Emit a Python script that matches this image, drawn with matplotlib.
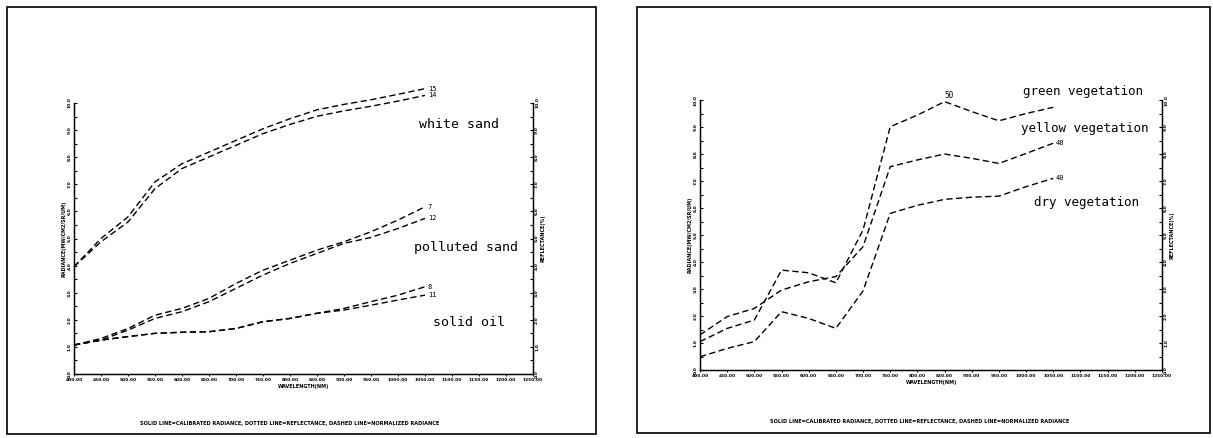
import numpy as np
import matplotlib
matplotlib.use("Agg")
import matplotlib.pyplot as plt
from matplotlib.patches import Rectangle

# wavelength ticks (nm) and sample points
tick_wl = [400, 450, 500, 550, 600, 650, 700, 750, 800, 850, 900, 950, 1000, 1050, 1100, 1150, 1200, 1250]
wl = [400, 450, 500, 550, 600, 650, 700, 750, 800, 850, 900, 950, 1000, 1050]

# left panel: sand / oil spectra (two curves each)
white_sand_15 = [3.96, 5.00, 5.80, 7.09, 7.76, 8.19, 8.62, 9.05, 9.42, 9.75, 9.95, 10.12, 10.32, 10.53]
white_sand_14 = [3.96, 4.88, 5.61, 6.84, 7.58, 8.01, 8.44, 8.87, 9.21, 9.51, 9.71, 9.88, 10.07, 10.28]
polluted_7 = [1.07, 1.31, 1.68, 2.17, 2.42, 2.79, 3.34, 3.83, 4.20, 4.57, 4.88, 5.25, 5.68, 6.17]
polluted_12 = [1.07, 1.25, 1.62, 2.05, 2.30, 2.67, 3.16, 3.65, 4.08, 4.45, 4.82, 5.04, 5.37, 5.74]
oil_8 = [1.07, 1.25, 1.38, 1.50, 1.54, 1.56, 1.68, 1.93, 2.05, 2.24, 2.42, 2.67, 2.91, 3.22]
oil_11 = [1.07, 1.25, 1.38, 1.50, 1.54, 1.56, 1.68, 1.93, 2.05, 2.24, 2.36, 2.54, 2.73, 2.91]

# right panel: vegetation spectra
green_veg = [1.05, 1.54, 1.85, 3.70, 3.60, 3.23, 5.19, 9.01, 9.44, 9.94, 9.57, 9.23, 9.50, 9.73]
yellow_veg = [1.30, 1.98, 2.28, 2.96, 3.27, 3.46, 4.57, 7.53, 7.78, 8.00, 7.84, 7.65, 8.02, 8.40]
dry_veg = [0.49, 0.80, 1.05, 2.16, 1.91, 1.54, 2.93, 5.80, 6.10, 6.32, 6.40, 6.44, 6.79, 7.10]

footnote = "SOLID LINE=CALIBRATED RADIANCE, DOTTED LINE=REFLECTANCE, DASHED LINE=NORMALIZED RADIANCE"

W, H = 1213, 438
fig = plt.figure(figsize=(W / 100, H / 100), dpi=100)

def fx(px):
    return px / W

def fy(py):
    return 1 - py / H

# page frames
for x0, y0, x1, y1 in [(7, 7, 596, 434), (637, 7, 1210, 433)]:
    fig.patches.append(Rectangle((fx(x0), fy(y1)), fx(x1 - x0), (y1 - y0) / H,
                                 transform=fig.transFigure, fill=False, lw=1.2, ec="black"))

dash = (0, (4.5, 2.5))
mono = "DejaVu Sans Mono"

def make_axes(x0, x1, ytop, ybot):
    ax = fig.add_axes([fx(x0), fy(ybot), fx(x1 - x0), (ybot - ytop) / H])
    ax.set_xlim(400, 1250)
    ax.set_ylim(0, 10)
    ax.spines["top"].set_visible(False)
    ax.set_xticks(tick_wl)
    ax.set_xticklabels(["%.2f" % t for t in tick_wl], fontsize=3.2, fontweight="bold")
    ax.set_yticks(np.arange(0, 11, 1))
    ax.set_yticks(np.arange(0.5, 10, 1), minor=True)
    ax.set_yticklabels(["%.1f" % v for v in range(11)], fontsize=3.2, fontweight="bold",
                       rotation=90, va="center")
    ax.tick_params(axis="both", which="both", direction="in", length=2.5, width=0.8, pad=1.5)
    ax.tick_params(axis="x", direction="out", length=1.5)
    ax.set_xlabel("WAVELENGTH(NM)", fontsize=3.5, fontweight="bold", labelpad=1)
    ax.set_ylabel("RADIANCE(MW/CM2/SR/UM)", fontsize=3.5, fontweight="bold", labelpad=1)
    for s in ["left", "bottom", "right"]:
        ax.spines[s].set_linewidth(1.0)
    ax2 = ax.twinx()
    ax2.set_ylim(0, 10)
    ax2.spines["top"].set_visible(False)
    ax2.set_yticks(np.arange(0, 11, 1))
    ax2.set_yticks(np.arange(0.5, 10, 1), minor=True)
    ax2.set_yticklabels(["%.1f" % v for v in range(11)], fontsize=3.2, fontweight="bold",
                        rotation=90, va="center")
    ax2.tick_params(axis="y", which="both", direction="in", length=2.5, width=0.8, pad=1.5)
    ax2.set_ylabel("REFLECTANCE(%)", fontsize=3.5, fontweight="bold", labelpad=1)
    return ax

# left panel
axL = make_axes(74, 533, 103, 374)
for ys in [white_sand_15, white_sand_14, polluted_7, polluted_12, oil_8, oil_11]:
    axL.plot(wl, ys, color="black", lw=1.0, ls=dash, clip_on=False)
for ys, lab in [(white_sand_15, "15"), (white_sand_14, "14"), (polluted_7, "7"),
                (polluted_12, "12"), (oil_8, "8"), (oil_11, "11")]:
    axL.text(1055, ys[-1], lab, fontsize=5, family=mono, va="center", ha="left")
axL.text(1039, 9.2, "white sand", fontsize=9.5, family=mono, ha="left", va="center")
axL.text(1030, 4.65, "polluted sand", fontsize=9.5, family=mono, ha="left", va="center")
axL.text(1065, 1.9, "solid oil", fontsize=9.5, family=mono, ha="left", va="center")

# right panel
axR = make_axes(700, 1162, 100, 370)
for ys in [green_veg, yellow_veg, dry_veg]:
    axR.plot(wl, ys, color="black", lw=1.0, ls=dash, clip_on=False)
axR.text(850, max(green_veg) + 0.05, "50", fontsize=5.5, family=mono, ha="left", va="bottom")
axR.text(1055, yellow_veg[-1], "48", fontsize=5, family=mono, ha="left", va="center")
axR.text(1055, dry_veg[-1], "40", fontsize=5, family=mono, ha="left", va="center")
axR.text(1215, 10.3, "green vegetation", fontsize=9, family=mono, ha="right", va="center")
axR.text(1226, 8.95, "yellow vegetation", fontsize=9, family=mono, ha="right", va="center")
axR.text(1208, 6.2, "dry vegetation", fontsize=9, family=mono, ha="right", va="center")

# footnotes
fig.text(fx(290), fy(423), footnote, fontsize=3.6, fontweight="bold", ha="center", va="center")
fig.text(fx(920), fy(421), footnote, fontsize=3.6, fontweight="bold", ha="center", va="center")

fig.savefig("out.png", dpi=100)
